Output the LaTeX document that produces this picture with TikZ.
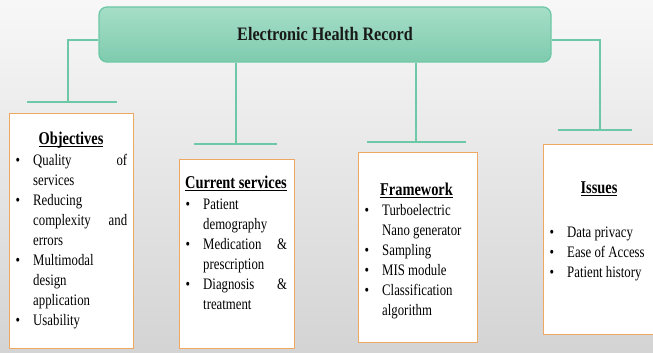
\documentclass[tikz,border=0pt]{standalone}
\usepackage{fontspec}
\setmainfont{Liberation Serif}[FakeStretch=0.8]
\newfontfamily\titlefont{Liberation Serif}[FakeStretch=0.85]
\definecolor{ehrgreen}{RGB}{108,200,166}
\definecolor{ehrtop}{RGB}{166,222,200}
\definecolor{ehrbottom}{RGB}{126,203,174}
\definecolor{ehrorange}{RGB}{238,168,98}
\newcommand\headul[1]{\setbox0\hbox{#1}\rlap{\vrule height -1.6pt depth 3.1pt width \wd0}\box0}
\newcommand\bitem{\par\noindent\hangindent=24pt\hangafter=1\makebox[24pt][l]{\hspace{6.5pt}\textbullet}}
\tikzset{
  link/.style={draw=ehrgreen, line width=1.6pt},
  titlebox/.style={draw=ehrgreen, line width=1.3pt, rounded corners=8pt,
    top color=ehrtop, bottom color=ehrbottom, minimum width=452pt,
    minimum height=55pt, font=\titlefont\fontsize{19}{23}\selectfont\bfseries, text=black!90},
  ehrbox/.style={draw=ehrorange, line width=1.2pt, fill=white, anchor=north west, inner sep=0pt},
  head/.style={anchor=base, inner sep=0pt, font=\fontsize{18}{20}\selectfont\bfseries},
  listbox/.style={anchor=base west, inner sep=0pt, font=\fontsize{16}{20}\selectfont}
}
\begin{document}
\begin{tikzpicture}[x=1pt,y=-1pt]
\useasboundingbox (0,0) rectangle (653,353);
\clip (0,0) rectangle (653,353);
\shade[top color=white!97!black, bottom color=black!17] (0,0) rectangle (653,353);

\node[titlebox] (ehr) at (325,34.5) {Electronic Health Record};

\coordinate (objtop) at (68,102);
\coordinate (curtop) at (236,144);
\coordinate (frmtop) at (416,142);
\coordinate (isstop) at (600,130);

\draw[link] ([yshift=-5.5pt]ehr.west) -| (objtop);
\draw[link] (curtop |- ehr.south) -- (curtop);
\draw[link] (frmtop |- ehr.south) -- (frmtop);
\draw[link] ([yshift=-5.5pt]ehr.east) -| (isstop);

\draw[link] (27,102) -- (117,102);
\draw[link] (194,144) -- (277,144);
\draw[link] (367,142) -- (466,142);
\draw[link] (558,130) -- (632,130);

\node[ehrbox, minimum width=124pt, minimum height=235pt] (obj) at (9,113) {};
\node[ehrbox, minimum width=115pt, minimum height=189pt] (cur) at (179,159) {};
\node[ehrbox, minimum width=119pt, minimum height=190pt] (frm) at (358,152) {};
\node[ehrbox, minimum width=125pt, minimum height=190pt] (iss) at (543,144) {};

\node[head] (objhead) at (71,144) {\headul{Objectives}};
\node[head] (curhead) at (236,188) {\headul{Current services}};
\node[head] (frmhead) at (416.5,195) {\headul{Framework}};
\node[head] (isshead) at (599,193) {\headul{Issues}};

\node[listbox] (objlist) at (9,165) {\begin{minipage}[t]{118pt}
\bitem Quality\hfill of\\services
\bitem Reducing\\complexity\hfill and\\errors
\bitem Multimodal\\design\\application
\bitem Usability
\end{minipage}};
\node[listbox] (curlist) at (179,209) {\begin{minipage}[t]{108pt}
\bitem Patient\\demography
\bitem Medication\hfill\&\\prescription
\bitem Diagnosis\hfill\&\\treatment
\end{minipage}};
\node[listbox] (frmlist) at (358,215) {\begin{minipage}[t]{115pt}
\bitem Turboelectric\\Nano generator
\bitem Sampling
\bitem MIS module
\bitem Classification\\algorithm
\end{minipage}};
\node[listbox] (isslist) at (543,237) {\begin{minipage}[t]{110pt}
\bitem Data privacy
\bitem Ease of Access
\bitem Patient history
\end{minipage}};
\end{tikzpicture}
\end{document}
